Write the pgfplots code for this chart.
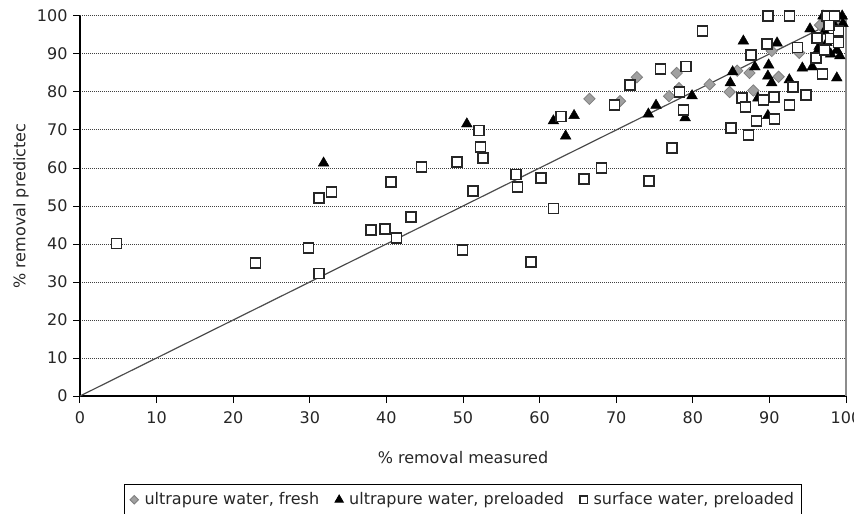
\documentclass[border=0pt]{standalone}
\usepackage{pgfplots}
\pgfplotsset{compat=1.18}
\usepackage{fontspec}
\setmainfont{DejaVu Sans}
\definecolor{dgray}{HTML}{A0A0A0}
\definecolor{egray}{HTML}{7F7F7F}
\begin{document}
\fontsize{16pt}{19pt}\selectfont
\begin{tikzpicture}
\begin{axis}[
  name=ax,
  scale only axis, width=766pt, height=380pt,
  xmin=0,xmax=100,ymin=0,ymax=100,
  xtick={0,10,...,100}, ytick={0,10,...,100},
  tick pos=left, tick align=outside, major tick length=7pt,
  tick style={black, line width=1pt},
  axis line style={draw=none},
  ymajorgrids, grid style={black!75, line width=1pt, dash pattern=on 1pt off 1pt},
  /pgf/number format/assume math mode=true,
  tick label style={font=\fontsize{16pt}{19pt}\selectfont, text=black!85},
  xticklabel style={yshift=-3pt},
  label style={font=\fontsize{16pt}{19pt}\selectfont, text=black!85},
  xlabel={\% removal measured}, ylabel={\% removal predictec},
  xlabel style={at={(axis description cs:0.5,0)}, anchor=center, yshift=-62pt},
  ylabel style={at={(axis description cs:0,0.5)}, anchor=center, yshift=59pt},
  clip=false,
  legend columns=3,
  legend style={at={(axis description cs:0.5,0)}, anchor=north, yshift=-88pt,
     draw=black, line width=1pt, font=\fontsize{16pt}{19pt}\selectfont, text=black!85,
     /tikz/every even column/.append style={column sep=14pt},
     /tikz/every odd column/.append style={column sep=4pt}, inner ysep=6pt, inner xsep=6pt},
  legend image code/.code={\draw[mark repeat=2,mark phase=2,#1,every mark/.append style={scale=0.75}] plot coordinates {(0pt,0pt) (7pt,0pt) (14pt,0pt)};},
]
\draw[black, line width=1.2pt] (rel axis cs:0,1) -- (rel axis cs:0,0) -- (rel axis cs:1,0);
\draw[black!45, line width=1.2pt] (rel axis cs:1,0) -- (rel axis cs:1,1);
\addplot[black!70, line width=1.2pt, forget plot] coordinates {(0,0) (100,100)};

\addplot[only marks, mark=square*, mark size=4pt, mark options={rotate=45, fill=dgray, draw=egray, line width=0.8pt}] coordinates {
(66.5,78.2) (70.5,77.6) (72.7,83.9) (77.9,85) (76.9,78.9) (78.2,81) (82.2,82) (84.8,80)
(85.8,85.6) (87.4,85) (87.9,80.4) (91.2,84) (90.3,90.8) (93.9,90.3) (96.6,97.6) (97.5,99.2)
(98.3,100) (99,99.3)};
\addlegendentry{ultrapure water, fresh}

\addplot[only marks, mark=triangle*, mark size=6.2pt, mark options={fill=black, draw=black}] coordinates {
(31.8,61.3) (50.5,71.6) (61.8,72.4) (64.5,73.8) (63.4,68.4) (74.2,74.2) (75.2,76.5) (79,73.2)
(79.9,79) (84.9,82.4) (85.2,85.3) (86.6,93.4) (88.1,86.6) (88.5,78.4) (89.8,73.8) (89.9,87.1)
(89.8,84.2) (90.3,82.4) (91,92.9) (92.6,83.2) (94.3,86.3) (95.6,86.6) (98.8,83.7) (95.3,96.6)
(97,100) (98,99) (98.5,97) (99,95) (97.5,93) (98.8,91) (96.5,92) (98,90) (99.2,89.5)
(97.2,96) (99.5,100) (98.2,98.5) (96.3,90.8) (99.6,98) (98.7,93.5)};
\addlegendentry{ultrapure water, preloaded}

\addplot[only marks, mark=square*, mark size=5pt, mark options={fill=white, draw=black!85, line width=1.4pt}] coordinates {
(4.8,40.2) (22.9,35) (29.8,38.9) (31.2,52.1) (32.8,53.7) (31.2,32.2) (38,43.7) (39.8,43.9)
(40.6,56.3) (41.3,41.6) (43.2,47.1) (44.6,60.3) (49.2,61.6) (49.9,38.4) (51.3,54) (52.1,69.8)
(52.3,65.5) (52.6,62.6) (56.9,58.3) (57.1,55) (58.9,35.3) (60.2,57.4) (61.8,49.3) (62.8,73.5)
(65.8,57.1) (68.1,60) (69.8,76.6) (71.8,81.8) (74.3,56.6) (75.8,86) (77.3,65.3) (78.3,80)
(78.8,75.3) (79.1,86.7) (81.3,96) (85,70.5) (86.4,78.4) (86.9,76) (87.3,68.7) (87.6,89.7)
(88.3,72.4) (89.2,77.9) (89.7,92.6) (89.8,100) (90.6,78.7) (90.7,72.9) (92.6,100) (92.6,76.6)
(93.1,81.3) (93.7,91.7) (94.8,79.2) (96.1,88.9) (96.9,84.7) (96.2,94.2) (97.5,100) (98.5,100)
(98,94) (99,96) (97.2,91) (99,93) (97.8,97.5)};
\addlegendentry{surface water, preloaded}
\end{axis}
\pgfresetboundingbox
\path ([xshift=-80pt,yshift=-118pt]ax.south west) rectangle ([xshift=8pt,yshift=16pt]ax.north east);
\end{tikzpicture}
\end{document}
